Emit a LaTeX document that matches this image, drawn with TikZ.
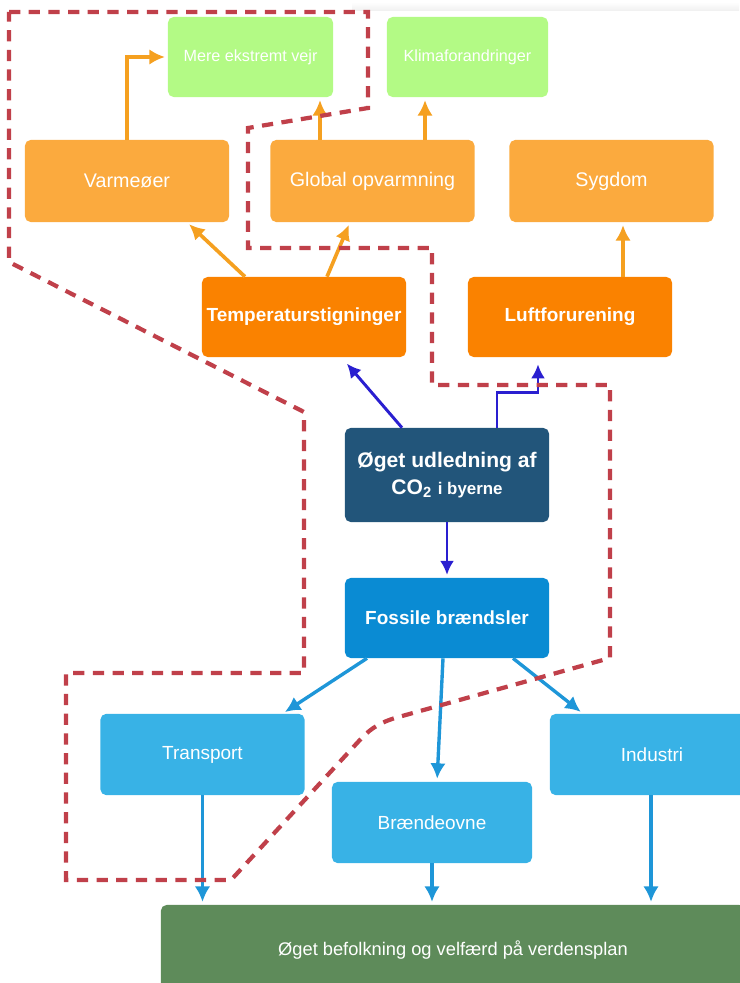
\documentclass[tikz,border=0pt]{standalone}
\usepackage{fontspec}
\setmainfont{Liberation Sans}
\usepackage{tikz}
\usetikzlibrary{
    arrows.meta % For arrow tips
}

\definecolor{climgreen}{HTML}{B3FA85}
\definecolor{lightorange}{HTML}{FBAA3E}
\definecolor{darkorange}{HTML}{FA8200}
\definecolor{co2blue}{HTML}{22557A}
\definecolor{fuelblue}{HTML}{0A8BD3}
\definecolor{sectorblue}{HTML}{38B2E6}
\definecolor{basegreen}{HTML}{5E8B5A}
\definecolor{arroworange}{HTML}{F5A020}
\definecolor{arrowviolet}{HTML}{2A1FD0}
\definecolor{arrowblue}{HTML}{1E96D8}
\definecolor{loopred}{HTML}{C0404A}

\begin{document}
\begin{tikzpicture}[
    x=0.025cm, y=-0.025cm, % one unit = one pixel of the sketch, y downwards
    >=Latex, % Default arrow tip
    box/.style={rectangle, rounded corners=4pt, inner sep=0pt, text=white,
        align=center, minimum width=5.1cm, minimum height=2cm,
        font=\fontsize{14}{16}\selectfont},
    climbox/.style={box, fill=climgreen, font=\fontsize{11.5}{14}\selectfont}, % Top row
    effectbox/.style={box, fill=lightorange, minimum height=2.05cm}, % Effects
    causebox/.style={box, fill=darkorange, font=\fontsize{13.5}{16}\selectfont\bfseries},
    sourcebox/.style={box, fill=co2blue, minimum height=2.35cm,
        font=\fontsize{15}{19}\selectfont\bfseries},
    fuelbox/.style={box, fill=fuelblue, font=\fontsize{13.5}{16}\selectfont\bfseries},
    sectorbox/.style={box, fill=sectorblue, minimum height=2.03cm,
        font=\fontsize{13.5}{16}\selectfont},
    basebox/.style={box, fill=basegreen, minimum width=14.6cm, minimum height=2.25cm,
        font=\fontsize{13}{16}\selectfont},
    orangearrow/.style={line width=2.6pt, draw=arroworange,
        arrows={-Latex[length=11pt, width=11pt]}, shorten >=2pt},
    violetarrow/.style={line width=2.1pt, draw=arrowviolet,
        arrows={-Latex[length=10pt, width=10pt]}, shorten >=2pt},
    bluearrow/.style={line width=2.4pt, draw=arrowblue,
        arrows={-Latex[length=11pt, width=11pt]}, shorten >=2pt},
    loop/.style={draw=loopred, line width=3pt, dash pattern=on 8pt off 6pt}
]

    % Frame of the sketch
    \useasboundingbox (0,0) rectangle (739,983);
    \shade[top color=white, bottom color=gray!12] (352,2) rectangle (739,11);

    % Top row
    \node[climbox, minimum width=4.125cm] (mere) at (250.5,57) {Mere ekstremt vejr};
    \node[climbox, minimum width=4.025cm] (klima) at (467.5,57) {Klimaforandringer};

    % Effects
    \node[effectbox] (varme) at (127,181) {Varmeøer};
    \node[effectbox] (global) at (372.5,181) {Global opvarmning};
    \node[effectbox] (sygdom) at (611.5,181) {Sygdom};

    % Direct consequences
    \node[causebox] (temp) at (304,317) {Temperaturstigninger};
    \node[causebox] (luft) at (570,317) {Luftforurening};

    % Core problem
    \node[sourcebox] (oget) at (447,475)
        {Øget udledning af\\CO\textsubscript{2} {\fontsize{12}{19}\selectfont i byerne}};
    \node[fuelbox] (fossil) at (447,618) {Fossile brændsler};

    % Sources
    \node[sectorbox] (transport) at (202.5,754.5) {Transport};
    \node[sectorbox] (industri) at (652,754.5) {Industri};
    \node[sectorbox, minimum width=5cm] (braende) at (432,822.5) {Brændeovne};
    \node[basebox] (befolkning) at (453,950) {Øget befolkning og velfærd på verdensplan};

    % Orange arrows
    \draw[orangearrow] (varme.north) |- (mere.west);
    \draw[orangearrow] ([xshift=-1.3125cm]global.north) coordinate (g1) -- (g1 |- mere.south);
    \draw[orangearrow] ([xshift=1.3125cm]global.north) coordinate (g2) -- (g2 |- klima.south);
    \draw[orangearrow] ([xshift=-1.475cm]temp.north) -- ([xshift=1.5cm]varme.south);
    \draw[orangearrow] ([xshift=0.575cm]temp.north) -- ([xshift=-0.5625cm]global.south);
    \draw[orangearrow] ([xshift=1.325cm]luft.north) coordinate (l1) -- (l1 |- sygdom.south);

    % Arrows out of the CO2 box
    \draw[violetarrow] ([xshift=-1.125cm]oget.north) -- ([xshift=1.025cm, yshift=-3pt]temp.south);
    \draw[violetarrow] ([xshift=1.25cm]oget.north) -- ++(0,-35)
        -| ([xshift=-0.8cm, yshift=-3pt]luft.south);
    \draw[violetarrow] (oget.south) -- (fossil.north);

    % Fuel to sectors
    \draw[bluearrow] ([xshift=-2cm]fossil.south) -- ([xshift=2cm]transport.north);
    \draw[bluearrow] ([xshift=-0.1cm]fossil.south) -- ([xshift=0.125cm]braende.north);
    \draw[bluearrow] ([xshift=1.65cm]fossil.south) -- ([xshift=-1.725cm]industri.north);
    \draw[bluearrow] (transport.south) -- (transport.south |- befolkning.north);
    \draw[bluearrow] (braende.south) -- (braende.south |- befolkning.north);
    \draw[bluearrow] ([xshift=-0.025cm]industri.south) coordinate (i1) -- (i1 |- befolkning.north);

    % Dashed red loop
    \draw[loop] (9,12) -- (368,12) -- (368,108) -- (248,128) -- (248,248)
        -- (432,248) -- (432,385) -- (610,385) -- (610,658) -- (395,718)
        .. controls (376,724) and (368,731) .. (358,742) -- (231,880)
        -- (66,880) -- (66,673) -- (304,673) -- (304,412) -- (9,262) -- cycle;

\end{tikzpicture}
\end{document}
